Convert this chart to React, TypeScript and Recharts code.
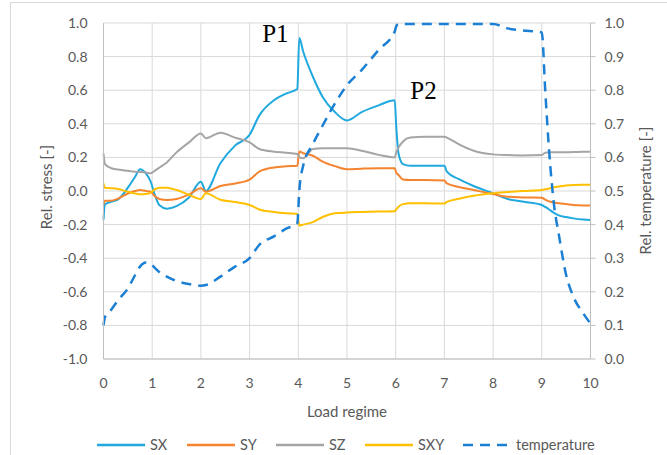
import { LineChart, Line, XAxis, YAxis, CartesianGrid, Legend, ReferenceDot } from 'recharts'

// load regime positions (shared by all series)
const loadX = [
  0, 0.03, 0.15, 0.3, 0.5, 0.65, 0.75, 0.87, 0.97, 1.05,
  1.15, 1.3, 1.5, 1.75, 2.0, 2.1, 2.4, 2.7, 3.0, 3.2,
  3.5, 3.75, 3.98, 4.02, 4.1, 4.3, 4.5, 4.75, 5.0, 5.3,
  5.65, 5.98, 6.01, 6.06, 6.15, 6.3, 6.6, 7.0, 7.05, 7.3,
  7.6, 8.0, 8.3, 8.6, 9.0, 9.07, 9.15, 9.25, 9.35, 9.5,
  9.65, 9.85, 10,
]

const sx = [
  -0.17, -0.08, -0.065, -0.05, 0.02, 0.085, 0.13, 0.105, 0.055, -0.02,
  -0.085, -0.105, -0.09, -0.04, 0.055, 0.0, 0.165, 0.27, 0.335, 0.45,
  0.54, 0.58, 0.607, 0.91, 0.83, 0.68, 0.56, 0.47, 0.42, 0.47,
  0.51, 0.54, 0.39, 0.22, 0.16, 0.15, 0.15, 0.15, 0.115, 0.07,
  0.03, -0.014, -0.048, -0.063, -0.083, -0.095, -0.11, -0.13, -0.145, -0.155,
  -0.163, -0.17, -0.173,
]

const sy = [
  -0.08, -0.058, -0.058, -0.045, -0.015, 0.0, 0.006, 0.0, -0.005, -0.03,
  -0.048, -0.054, -0.048, -0.022, 0.016, -0.004, 0.03, 0.045, 0.068, 0.115,
  0.14, 0.147, 0.15, 0.235, 0.225, 0.21, 0.175, 0.148, 0.13, 0.133,
  0.135, 0.135, 0.11, 0.095, 0.068, 0.065, 0.065, 0.062, 0.045, 0.024,
  0.006, -0.018, -0.034, -0.038, -0.04, -0.052, -0.062, -0.068, -0.073, -0.078,
  -0.083, -0.086, -0.087,
]

const sz = [
  0.224, 0.16, 0.137, 0.128, 0.12, 0.115, 0.113, 0.11, 0.105, 0.12,
  0.14, 0.17, 0.23, 0.288, 0.343, 0.314, 0.347, 0.318, 0.29, 0.25,
  0.234, 0.228, 0.22, 0.2, 0.195, 0.25, 0.254, 0.254, 0.254, 0.24,
  0.215, 0.2, 0.23, 0.26, 0.295, 0.318, 0.323, 0.323, 0.318, 0.278,
  0.24, 0.218, 0.214, 0.212, 0.214, 0.228, 0.23, 0.23, 0.23, 0.231,
  0.232, 0.233, 0.234,
]

const sxy = [
  0.045, 0.02, 0.017, 0.012, -0.005, -0.015, -0.02, -0.018, -0.01, 0.01,
  0.02, 0.02, 0.006, -0.022, -0.048, -0.014, -0.052, -0.066, -0.083, -0.11,
  -0.125, -0.132, -0.135, -0.205, -0.2, -0.185, -0.155, -0.133, -0.128, -0.125,
  -0.122, -0.12, -0.11, -0.093, -0.078, -0.073, -0.073, -0.075, -0.065, -0.046,
  -0.028, -0.013, -0.006, 0.0, 0.006, 0.01, 0.015, 0.022, 0.027, 0.033,
  0.036, 0.037, 0.037,
]

const temperature = [
  0.1, 0.125, 0.145, 0.175, 0.21, 0.25, 0.275, 0.287, 0.283, 0.272,
  0.258, 0.245, 0.232, 0.223, 0.218, 0.22, 0.245, 0.275, 0.3, 0.34,
  0.365, 0.388, 0.404, 0.5, 0.575, 0.64, 0.695, 0.76, 0.815, 0.86,
  0.92, 0.975, 0.99, 0.997, 0.997, 0.997, 0.997, 0.997, 0.997, 0.997,
  0.997, 0.997, 0.984, 0.978, 0.972, 0.8, 0.62, 0.46, 0.37, 0.25,
  0.185, 0.136, 0.105,
]

const xTicks = [0, 1, 2, 3, 4, 5, 6, 7, 8, 9, 10]
const stressTicks = [-1, -0.8, -0.6, -0.4, -0.2, 0, 0.2, 0.4, 0.6, 0.8, 1]
const tempTicks = [0, 0.1, 0.2, 0.3, 0.4, 0.5, 0.6, 0.7, 0.8, 0.9, 1]

const series = [
  { key: 'SX', color: '#1fa9de', axis: 'stress', dash: undefined as string | undefined, width: 2, slot: 90 },
  { key: 'SY', color: '#f4842f', axis: 'stress', dash: undefined, width: 2, slot: 89 },
  { key: 'SZ', color: '#a5a5a5', axis: 'stress', dash: undefined, width: 2, slot: 89 },
  { key: 'SXY', color: '#ffc000', axis: 'stress', dash: undefined, width: 2, slot: 98 },
  { key: 'temperature', color: '#1b7fd3', axis: 'temp', dash: '10 7', width: 2.5, slot: 150 },
]

const rows = loadX.map((x, i) => ({
  x,
  SX: sx[i],
  SY: sy[i],
  SZ: sz[i],
  SXY: sxy[i],
  temperature: temperature[i],
}))

const font = 'Lato, "Noto Sans", sans-serif'
const grey = '#595959'
const tickStyle = { fill: grey, fontSize: 14, fontFamily: font }

const verticalTitle = (text: string, cx: number, cy: number) => () => (
  <text
    x={cx}
    y={cy}
    transform={`rotate(-90 ${cx} ${cy})`}
    textAnchor="middle"
    dominantBaseline="central"
    fill={grey}
    fontSize={15}
    fontFamily={font}
  >
    {text}
  </text>
)

const xTitle = () => (
  <text x={347} y={417} textAnchor="middle" fill={grey} fontSize={15} fontFamily={font}>
    Load regime
  </text>
)

function ChartLegend() {
  return (
    <div style={{ display: 'flex', alignItems: 'center', fontFamily: font, fontSize: 14.5, lineHeight: '16px', color: grey, whiteSpace: 'nowrap' }}>
      {series.map((s) => (
        <div key={s.key} style={{ display: 'flex', alignItems: 'center', width: s.slot, flex: 'none' }}>
          <svg width={48} height={6} style={{ flex: 'none' }}>
            <line x1={0} y1={3} x2={48} y2={3} stroke={s.color} strokeWidth={2.5} strokeDasharray={s.dash} />
          </svg>
          <span style={{ marginLeft: 5 }}>{s.key}</span>
        </div>
      ))}
    </div>
  )
}

const annotation = { fill: '#000', fontSize: 25, fontFamily: '"Liberation Serif", "DejaVu Serif", serif' }

export default function App() {
  return (
    <div style={{ position: 'absolute', left: 0, top: 0, width: 667, height: 455, overflow: 'hidden', background: '#fff' }}>
      <div style={{ position: 'absolute', left: 10, top: 2, width: 700, height: 500, border: '1px solid #d9d9d9' }} />
      <LineChart width={667} height={455} data={rows} margin={{ top: 23, right: 0, bottom: 0, left: 0 }}>
        <CartesianGrid stroke="#d9d9d9" yAxisId="stress" />
        <XAxis
          dataKey="x"
          type="number"
          domain={[0, 10]}
          ticks={xTicks}
          interval={0}
          height={96}
          tickLine={false}
          tickMargin={13}
          axisLine={{ stroke: '#bfbfbf' }}
          tick={tickStyle}
          label={xTitle}
        />
        <YAxis
          yAxisId="stress"
          domain={[-1, 1]}
          ticks={stressTicks}
          interval={0}
          width={103.5}
          tickLine={false}
          tickMargin={10}
          axisLine={{ stroke: '#bfbfbf' }}
          tick={tickStyle}
          tickFormatter={(v: number) => v.toFixed(1)}
          label={verticalTitle('Rel. stress [-]', 45.5, 187)}
        />
        <YAxis
          yAxisId="temp"
          orientation="right"
          domain={[0, 1]}
          ticks={tempTicks}
          interval={0}
          width={76.5}
          tickSize={5}
          tickMargin={9}
          tickLine={{ stroke: '#bfbfbf' }}
          axisLine={{ stroke: '#bfbfbf' }}
          tick={tickStyle}
          tickFormatter={(v: number) => v.toFixed(1)}
          label={verticalTitle('Rel. temperature [-]', 645, 190.5)}
        />
        <Legend
          verticalAlign="middle"
          align="center"
          layout="horizontal"
          wrapperStyle={{ left: 97, top: 437, width: 540 }}
          content={ChartLegend}
        />
        {series.map((s) => (
          <Line
            key={s.key}
            yAxisId={s.axis}
            type="monotone"
            dataKey={s.key}
            stroke={s.color}
            strokeWidth={s.width}
            strokeDasharray={s.dash}
            strokeLinejoin="round"
            dot={false}
            activeDot={false}
            isAnimationActive={false}
          />
        ))}
        <ReferenceDot yAxisId="stress" x={3.53} y={0.9375} r={0} stroke="none" label={{ value: 'P1', position: 'center', ...annotation }} />
        <ReferenceDot yAxisId="stress" x={6.57} y={0.601} r={0} stroke="none" label={{ value: 'P2', position: 'center', ...annotation }} />
      </LineChart>
    </div>
  )
}
